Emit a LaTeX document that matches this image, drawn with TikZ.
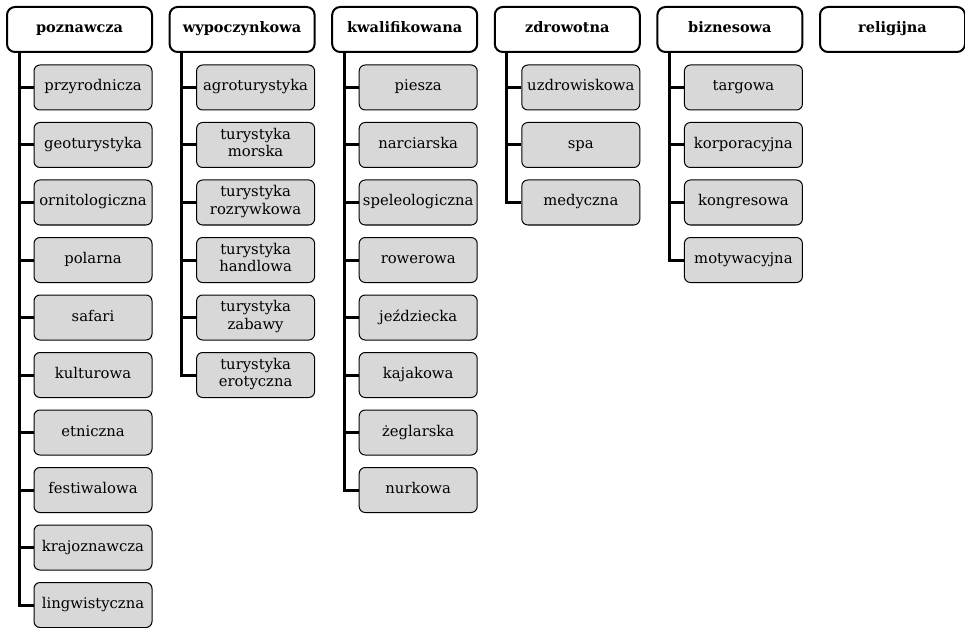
\documentclass[tikz,border=0pt]{standalone}
\usepackage{fontspec}
\setmainfont{DejaVu Serif}
\definecolor{szary}{HTML}{D8D8D8}
\tikzset{
  naglowek/.style={draw, line width=2pt, rounded corners=8pt, fill=white,
    minimum width=145pt, minimum height=45pt, inner sep=0pt,
    font=\fontsize{14.5}{16}\selectfont\bfseries, text height=11pt, text depth=4pt},
  rodzaj/.style={draw, line width=1pt, rounded corners=6pt, fill=szary,
    minimum width=118pt, minimum height=45pt, inner sep=0pt, align=center,
    execute at begin node=\strut, execute at end node=\strut},
  galaz/.style={line width=3pt},
}
\begin{document}
\begin{tikzpicture}[x=1pt, y=-1pt, font=\fontsize{14.8}{17.5}\selectfont]
    \useasboundingbox (0,0) rectangle (965,628);

    % Nagłówki
    \node[naglowek] (poz) at (79.5,29.5) {poznawcza};
    \node[naglowek] (wyp) at (242.1,29.5) {wypoczynkowa};
    \node[naglowek] (kwa) at (404.7,29.5) {kwalifikowana};
    \node[naglowek] (zdr) at (567.3,29.5) {zdrowotna};
    \node[naglowek] (biz) at (729.9,29.5) {biznesowa};
    \node[naglowek] (rel) at (892.5,29.5) {religijna};

    % Poznawcza
    \foreach \t [count=\j from 0] in {przyrodnicza, geoturystyka, ornitologiczna,
        polarna, safari, kulturowa, etniczna, festiwalowa, krajoznawcza, lingwistyczna} {
      \node[rodzaj] (poz-\j) at (93, 87.5+57.5*\j) {\t};
      \draw[galaz] ([xshift=13pt]poz.south west) |- (poz-\j.west);
    }

    % Wypoczynkowa
    \foreach \t [count=\j from 0] in {agroturystyka, {turystyka\\morska},
        {turystyka\\rozrywkowa}, {turystyka\\handlowa}, {turystyka\\zabawy},
        {turystyka\\erotyczna}} {
      \node[rodzaj] (wyp-\j) at (255.6, 87.5+57.5*\j) {\t};
      \draw[galaz] ([xshift=13pt]wyp.south west) |- (wyp-\j.west);
    }

    % Kwalifikowana
    \foreach \t [count=\j from 0] in {piesza, narciarska, speleologiczna, rowerowa,
        jeździecka, kajakowa, żeglarska, nurkowa} {
      \node[rodzaj] (kwa-\j) at (418.2, 87.5+57.5*\j) {\t};
      \draw[galaz] ([xshift=13pt]kwa.south west) |- (kwa-\j.west);
    }

    % Zdrowotna
    \foreach \t [count=\j from 0] in {uzdrowiskowa, spa, medyczna} {
      \node[rodzaj] (zdr-\j) at (580.8, 87.5+57.5*\j) {\t};
      \draw[galaz] ([xshift=13pt]zdr.south west) |- (zdr-\j.west);
    }

    % Biznesowa
    \foreach \t [count=\j from 0] in {targowa, korporacyjna, kongresowa, motywacyjna} {
      \node[rodzaj] (biz-\j) at (743.4, 87.5+57.5*\j) {\t};
      \draw[galaz] ([xshift=13pt]biz.south west) |- (biz-\j.west);
    }

\end{tikzpicture}
\end{document}
